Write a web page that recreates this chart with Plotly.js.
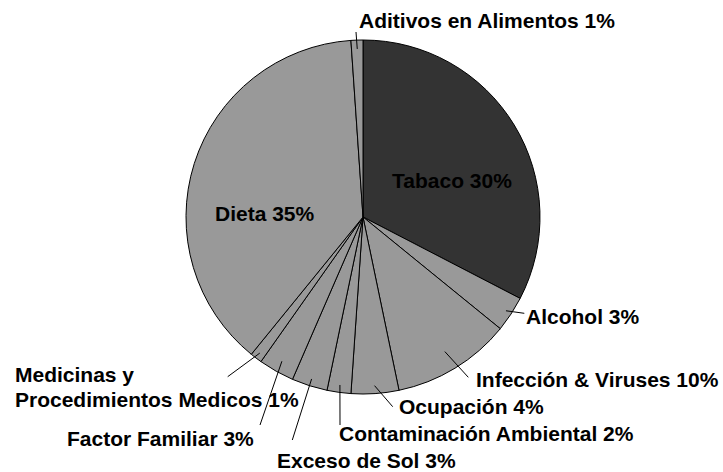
<!DOCTYPE html>
<html>
<head>
<meta charset="utf-8">
<script src="https://cdn.plot.ly/plotly-3.0.1.min.js"></script>
<style>html,body{margin:0;padding:0;background:#fff;}#chart{width:723px;height:472px;}</style>
</head>
<body>
<div id="chart"></div>
<script>
// ---- data ----
const categories = ['Tabaco', 'Alcohol', 'Infección & Viruses', 'Ocupación', 'Contaminación Ambiental',
  'Exceso de Sol', 'Factor Familiar', 'Medicinas y Procedimientos Medicos', 'Dieta', 'Aditivos en Alimentos'];
const values = [30, 3, 10, 4, 2, 3, 3, 1, 35, 1];
const labelTexts = categories.map((c, i) => c + ' ' + values[i] + '%');

// ---- styles / layout ----
const sliceColors = ['#333333', '#999999', '#999999', '#999999', '#999999', '#999999', '#999999', '#999999', '#999999', '#999999'];
const W = 723, H = 472;
const CX = 363, CY = 217, R = 177;
// label placement (pixels): text centre, leader-line end, start fraction of radius
const labelPlace = [
  {tx: 452.3, ty: 180.5, inside: true},
  {tx: 582.5, ty: 316.8, ex: 524.3, ey: 313.3, f: 0.966},
  {tx: 597.5, ty: 379.5, ex: 468.3, ey: 377.3, f: 0.89},
  {tx: 471, ty: 406.2, ex: 392.7, ey: 406.7, f: 0.955},
  {tx: 486.3, ty: 433.8, ex: 340, ey: 425, f: 0.958},
  {tx: 366.7, ty: 460, ex: 292.3, ey: 440, f: 0.96},
  {tx: 160.8, ty: 438, ex: 260, ey: 425, f: 0.935},
  {tx: 13.3, ty: [374.7, 399.5], split: ' y ', left: true, ex: 227.7, ey: 376.7, f: 0.965},
  {tx: 265, ty: 213.3, inside: true},
  {tx: 486.5, ty: 21, ex: 356, ey: 32, f: 0.95}
];
const FONT = {family: 'Liberation Sans, Arial, sans-serif', size: 21, color: '#000000', weight: 'bold'};

const total = values.reduce((a, b) => a + b, 0);
const annotations = [];
const shapes = [];
let cum = 0;
const px = x => x / W;
const py = y => 1 - y / H;
values.forEach((v, i) => {
  const mid = (cum + v / 2) / total * 2 * Math.PI;
  cum += v;
  const p = labelPlace[i];
  if (p.split) {
    const parts = labelTexts[i].split(p.split);
    const lines = [parts[0] + p.split.trimEnd(), parts.slice(1).join(p.split)];
    lines.forEach((t, k) => annotations.push({
      text: '<b>' + t + '</b>', xref: 'paper', yref: 'paper', x: px(p.tx), y: py(p.ty[k]),
      xanchor: 'left', yanchor: 'middle', showarrow: false, font: FONT
    }));
  } else {
    annotations.push({
      text: '<b>' + labelTexts[i] + '</b>', xref: 'paper', yref: 'paper', x: px(p.tx), y: py(p.ty),
      xanchor: p.left ? 'left' : 'center', yanchor: 'middle', showarrow: false, font: FONT
    });
  }
  if (!p.inside) {
    const sx = CX + p.f * R * Math.sin(mid);
    const sy = CY - p.f * R * Math.cos(mid);
    shapes.push({type: 'line', xref: 'paper', yref: 'paper', x0: px(sx), y0: py(sy), x1: px(p.ex), y1: py(p.ey),
      line: {color: '#000000', width: 1}, layer: 'above'});
  }
});

const trace = {
  type: 'pie',
  labels: categories,
  values: values,
  sort: false,
  direction: 'clockwise',
  rotation: 0,
  textinfo: 'none',
  hoverinfo: 'none',
  marker: {colors: sliceColors, line: {color: '#000000', width: 1}},
  domain: {x: [(CX - R) / W, (CX + R) / W], y: [(H - CY - R) / H, (H - CY + R) / H]},
  showlegend: false
};

const layout = {
  width: W, height: H,
  margin: {l: 0, r: 0, t: 0, b: 0},
  paper_bgcolor: '#ffffff',
  plot_bgcolor: '#ffffff',
  showlegend: false,
  annotations: annotations,
  shapes: shapes
};

Plotly.newPlot('chart', [trace], layout, {staticPlot: true, displayModeBar: false});
</script>
</body>
</html>
